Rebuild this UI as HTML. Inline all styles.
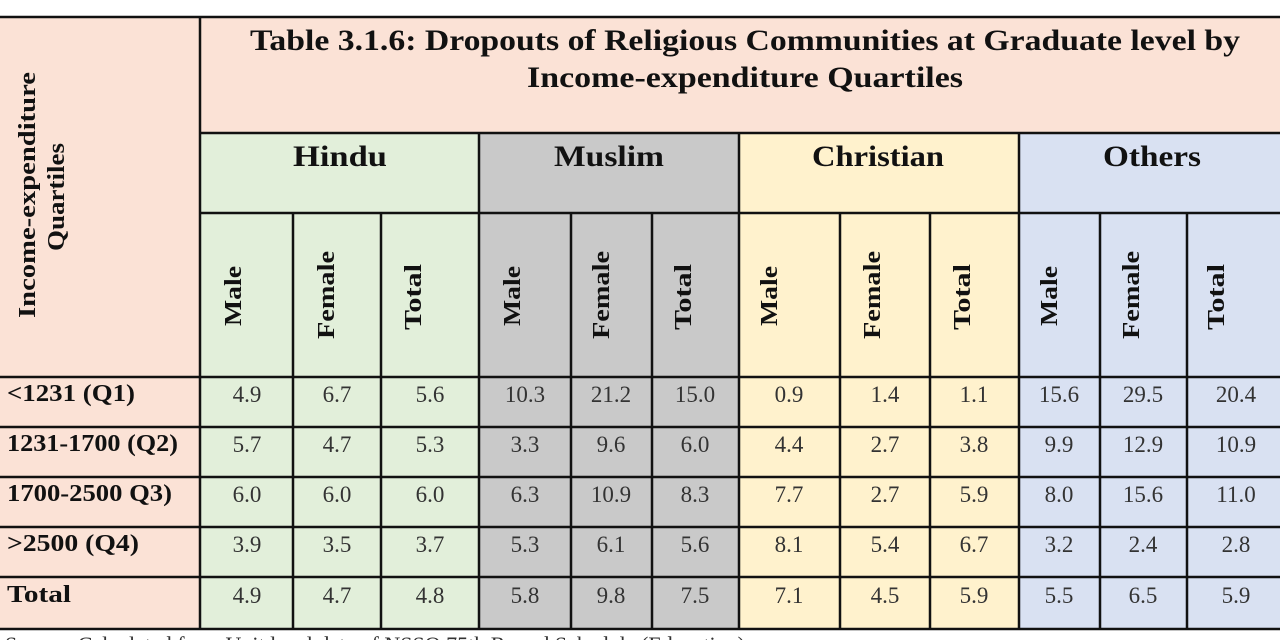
<!DOCTYPE html>
<html><head><meta charset="utf-8"><style>
html,body{margin:0;padding:0;background:#fff;}
svg{display:block;}
text{font-family:"Liberation Serif",serif;}
</style></head><body>
<svg width="1280" height="640" viewBox="0 0 1280 640" xmlns="http://www.w3.org/2000/svg">
<rect width="1280" height="640" fill="#fff"/>
<rect x="0" y="17" width="1280" height="116" fill="#fbe2d6"/>
<rect x="0" y="133" width="200" height="496" fill="#fbe2d6"/>
<rect x="200" y="133" width="279" height="496" fill="#e2efda"/>
<rect x="479" y="133" width="260" height="496" fill="#c9c9c9"/>
<rect x="739" y="133" width="280" height="496" fill="#fff2cd"/>
<rect x="1019" y="133" width="261" height="496" fill="#d9e1f2"/>
<g stroke="#111" stroke-width="2.5" fill="none">
<line x1="0" y1="17" x2="1280" y2="17"/>
<line x1="200" y1="133" x2="1280" y2="133"/>
<line x1="200" y1="213" x2="1280" y2="213"/>
<line x1="0" y1="377" x2="1280" y2="377"/>
<line x1="0" y1="427" x2="1280" y2="427"/>
<line x1="0" y1="477" x2="1280" y2="477"/>
<line x1="0" y1="527" x2="1280" y2="527"/>
<line x1="0" y1="577" x2="1280" y2="577"/>
<line x1="0" y1="629" x2="1280" y2="629"/>
<line x1="200" y1="17" x2="200" y2="629"/>
<line x1="479" y1="133" x2="479" y2="629"/>
<line x1="739" y1="133" x2="739" y2="629"/>
<line x1="1019" y1="133" x2="1019" y2="629"/>
<line x1="293" y1="213" x2="293" y2="629"/>
<line x1="381" y1="213" x2="381" y2="629"/>
<line x1="571" y1="213" x2="571" y2="629"/>
<line x1="652" y1="213" x2="652" y2="629"/>
<line x1="840" y1="213" x2="840" y2="629"/>
<line x1="930" y1="213" x2="930" y2="629"/>
<line x1="1100" y1="213" x2="1100" y2="629"/>
<line x1="1187" y1="213" x2="1187" y2="629"/>
</g>
<g font-weight="bold" font-size="30" fill="#111" text-anchor="middle">
<text x="745" y="50" textLength="990" lengthAdjust="spacingAndGlyphs">Table 3.1.6: Dropouts of Religious Communities at Graduate level by</text>
<text x="745" y="87" textLength="436" lengthAdjust="spacingAndGlyphs">Income-expenditure Quartiles</text>
</g>
<g font-weight="bold" font-size="30" fill="#111" text-anchor="middle">
<text x="340" y="166" textLength="94" lengthAdjust="spacingAndGlyphs">Hindu</text>
<text x="609" y="166" textLength="110" lengthAdjust="spacingAndGlyphs">Muslim</text>
<text x="878" y="166" textLength="132" lengthAdjust="spacingAndGlyphs">Christian</text>
<text x="1152" y="166" textLength="98" lengthAdjust="spacingAndGlyphs">Others</text>
</g>
<g font-weight="bold" font-size="24" fill="#111" text-anchor="middle">
<text transform="translate(35,195) rotate(-90)" textLength="246" lengthAdjust="spacingAndGlyphs">Income-expenditure</text>
<text transform="translate(64,197) rotate(-90)" textLength="108" lengthAdjust="spacingAndGlyphs">Quartiles</text>
</g>
<g font-weight="bold" font-size="24" fill="#111" text-anchor="middle">
<text transform="translate(241,296) rotate(-90)" textLength="60" lengthAdjust="spacingAndGlyphs">Male</text>
<text transform="translate(334,295) rotate(-90)" textLength="88" lengthAdjust="spacingAndGlyphs">Female</text>
<text transform="translate(421,297) rotate(-90)" textLength="66" lengthAdjust="spacingAndGlyphs">Total</text>
<text transform="translate(520,296) rotate(-90)" textLength="60" lengthAdjust="spacingAndGlyphs">Male</text>
<text transform="translate(609,295) rotate(-90)" textLength="88" lengthAdjust="spacingAndGlyphs">Female</text>
<text transform="translate(691,297) rotate(-90)" textLength="66" lengthAdjust="spacingAndGlyphs">Total</text>
<text transform="translate(777,296) rotate(-90)" textLength="60" lengthAdjust="spacingAndGlyphs">Male</text>
<text transform="translate(880,295) rotate(-90)" textLength="88" lengthAdjust="spacingAndGlyphs">Female</text>
<text transform="translate(970,297) rotate(-90)" textLength="66" lengthAdjust="spacingAndGlyphs">Total</text>
<text transform="translate(1057,296) rotate(-90)" textLength="60" lengthAdjust="spacingAndGlyphs">Male</text>
<text transform="translate(1139,295) rotate(-90)" textLength="88" lengthAdjust="spacingAndGlyphs">Female</text>
<text transform="translate(1224,297) rotate(-90)" textLength="66" lengthAdjust="spacingAndGlyphs">Total</text>
</g>
<g font-weight="bold" font-size="24" fill="#111">
<text x="7" y="401" textLength="128" lengthAdjust="spacingAndGlyphs">&lt;1231 (Q1)</text>
<text x="7" y="451" textLength="171" lengthAdjust="spacingAndGlyphs">1231-1700 (Q2)</text>
<text x="7" y="501" textLength="165" lengthAdjust="spacingAndGlyphs">1700-2500 Q3)</text>
<text x="7" y="551" textLength="132" lengthAdjust="spacingAndGlyphs">&gt;2500 (Q4)</text>
<text x="7" y="602" textLength="64" lengthAdjust="spacingAndGlyphs">Total</text>
</g>
<g font-size="23" fill="#333" text-anchor="middle">
<g transform="translate(0,402)">
<text x="247">4.9</text><text x="337">6.7</text><text x="430">5.6</text>
<text x="525">10.3</text><text x="611">21.2</text><text x="695">15.0</text>
<text x="789">0.9</text><text x="885">1.4</text><text x="974">1.1</text>
<text x="1059">15.6</text><text x="1143">29.5</text><text x="1236">20.4</text>
</g>
<g transform="translate(0,452)">
<text x="247">5.7</text><text x="337">4.7</text><text x="430">5.3</text>
<text x="525">3.3</text><text x="611">9.6</text><text x="695">6.0</text>
<text x="789">4.4</text><text x="885">2.7</text><text x="974">3.8</text>
<text x="1059">9.9</text><text x="1143">12.9</text><text x="1236">10.9</text>
</g>
<g transform="translate(0,502)">
<text x="247">6.0</text><text x="337">6.0</text><text x="430">6.0</text>
<text x="525">6.3</text><text x="611">10.9</text><text x="695">8.3</text>
<text x="789">7.7</text><text x="885">2.7</text><text x="974">5.9</text>
<text x="1059">8.0</text><text x="1143">15.6</text><text x="1236">11.0</text>
</g>
<g transform="translate(0,552)">
<text x="247">3.9</text><text x="337">3.5</text><text x="430">3.7</text>
<text x="525">5.3</text><text x="611">6.1</text><text x="695">5.6</text>
<text x="789">8.1</text><text x="885">5.4</text><text x="974">6.7</text>
<text x="1059">3.2</text><text x="1143">2.4</text><text x="1236">2.8</text>
</g>
<g transform="translate(0,603)">
<text x="247">4.9</text><text x="337">4.7</text><text x="430">4.8</text>
<text x="525">5.8</text><text x="611">9.8</text><text x="695">7.5</text>
<text x="789">7.1</text><text x="885">4.5</text><text x="974">5.9</text>
<text x="1059">5.5</text><text x="1143">6.5</text><text x="1236">5.9</text>
</g>
</g>
<text x="5" y="652" font-size="22" fill="#333">Source: Calculated from Unit level data of NSSO 75th Round Schedule (Education)</text>
</svg>
</body></html>
